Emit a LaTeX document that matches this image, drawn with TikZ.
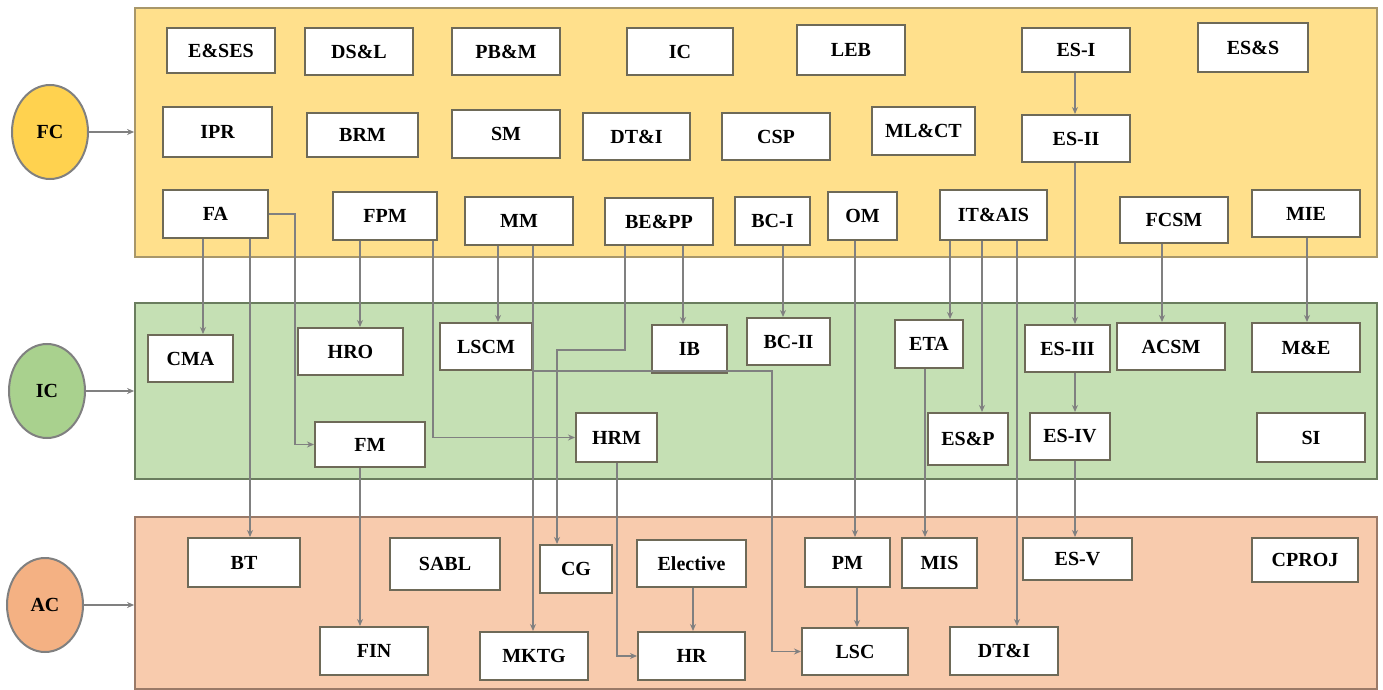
\documentclass[tikz,border=0pt]{standalone}
\usepackage{fontspec}
\setmainfont{Liberation Serif}
\usetikzlibrary{shapes.geometric,arrows.meta}
\definecolor{fcfill}{HTML}{FFE08C}
\definecolor{icfill}{HTML}{C5E0B4}
\definecolor{acfill}{HTML}{F8CBAD}
\definecolor{fccirc}{HTML}{FFD24F}
\definecolor{iccirc}{HTML}{A9D18E}
\definecolor{accirc}{HTML}{F4B183}
\definecolor{fcedge}{HTML}{A8976A}
\definecolor{icedge}{HTML}{6A7D5E}
\definecolor{acedge}{HTML}{9A7A68}
\definecolor{boxedge}{HTML}{6E6A58}
\definecolor{linec}{HTML}{808080}
\newcommand\mybox[6]{\node[box, minimum width={(#4-#2)*0.5pt}, minimum height={(#5-#3)*0.5pt}] (#1) at ({(#2+#4)/2},{(#3+#5)/2}) {#6};}
\newcommand\myvc[3]{\coordinate (vx) at (#3,0); \draw[conn] (#1.south -| vx) -- (#2.north -| vx);}
\begin{document}
\begin{tikzpicture}[x=0.5pt,y=-0.5pt,
  box/.style={draw=boxedge, line width=1pt, fill=white, inner sep=0pt, font=\bfseries\fontsize{10}{12}\selectfont},
  conn/.style={draw=linec, line width=0.6pt, -{Stealth[length=3.5pt,width=3pt]}},
  band/.style={line width=0.9pt, inner sep=0pt, minimum width={(1377-135)*0.5pt}},
  circ/.style={ellipse, draw=gray, line width=1pt, minimum width=38pt, minimum height=47pt, inner sep=0pt, font=\bfseries\fontsize{10}{12}\selectfont}]
\useasboundingbox (0,0) rectangle (1383,690);
% bands
\node[band, draw=fcedge, fill=fcfill, minimum height={(257-8)*0.5pt}] (fcband) at ({(135+1377)/2},{(8+257)/2}) {};
\node[band, draw=icedge, fill=icfill, minimum height={(479-303)*0.5pt}] (icband) at ({(135+1377)/2},{(303+479)/2}) {};
\node[band, draw=acedge, fill=acfill, minimum height={(689-517)*0.5pt}] (acband) at ({(135+1377)/2},{(517+689)/2}) {};
% circles
\node[circ, fill=fccirc] (fcc) at (50,132) {FC};
\node[circ, fill=iccirc] (icc) at (47,391) {IC};
\node[circ, fill=accirc] (acc) at (45,605) {AC};
\draw[conn] (fcc.east) -- (fcc.east -| fcband.west);
\draw[conn] (icc.east) -- (icc.east -| icband.west);
\draw[conn] (acc.east) -- (acc.east -| acband.west);
% FC boxes
\mybox{esses}{167}{28}{275}{73}{E\&SES}
\mybox{dsl}{305}{28}{413}{75}{DS\&L}
\mybox{pbm}{452}{28}{560}{75}{PB\&M}
\mybox{ic}{627}{28}{733}{75}{IC}
\mybox{leb}{797}{25}{905}{75}{LEB}
\mybox{esi}{1022}{28}{1130}{72}{ES-I}
\mybox{ess}{1198}{23}{1308}{72}{ES\&S}
\mybox{ipr}{163}{107}{272}{157}{IPR}
\mybox{brm}{307}{113}{418}{157}{BRM}
\mybox{sm}{452}{110}{560}{158}{SM}
\mybox{dti}{583}{113}{690}{160}{DT\&I}
\mybox{csp}{722}{113}{830}{160}{CSP}
\mybox{mlct}{872}{107}{975}{155}{ML\&CT}
\mybox{esii}{1022}{115}{1130}{162}{ES-II}
\mybox{fa}{163}{190}{268}{238}{FA}
\mybox{fpm}{333}{192}{437}{240}{FPM}
\mybox{mm}{465}{197}{573}{245}{MM}
\mybox{bepp}{605}{198}{713}{245}{BE\&PP}
\mybox{bci}{735}{197}{810}{245}{BC-I}
\mybox{om}{828}{192}{897}{240}{OM}
\mybox{itais}{940}{190}{1047}{240}{IT\&AIS}
\mybox{fcsm}{1120}{197}{1228}{243}{FCSM}
\mybox{mie}{1252}{190}{1360}{237}{MIE}
% IC boxes
\mybox{cma}{148}{335}{233}{382}{CMA}
\mybox{hro}{298}{328}{403}{375}{HRO}
\mybox{lscm}{440}{323}{532}{370}{LSCM}
\mybox{ib}{652}{325}{727}{373}{IB}
\mybox{bcii}{747}{318}{830}{365}{BC-II}
\mybox{eta}{895}{320}{963}{368}{ETA}
\mybox{esiii}{1025}{325}{1110}{372}{ES-III}
\mybox{acsm}{1117}{323}{1225}{370}{ACSM}
\mybox{me}{1252}{323}{1360}{372}{M\&E}
\mybox{fm}{315}{422}{425}{467}{FM}
\mybox{hrm}{576}{413}{657}{462}{HRM}
\mybox{esp}{928}{413}{1008}{465}{ES\&P}
\mybox{esiv}{1030}{413}{1110}{460}{ES-IV}
\mybox{si}{1257}{413}{1365}{462}{SI}
% AC boxes
\mybox{bt}{188}{538}{300}{587}{BT}
\mybox{sabl}{390}{538}{500}{590}{SABL}
\mybox{cg}{540}{545}{612}{593}{CG}
\mybox{elec}{637}{540}{746}{587}{Elective}
\mybox{pm}{805}{538}{890}{587}{PM}
\mybox{mis}{902}{538}{977}{588}{MIS}
\mybox{esv}{1023}{538}{1132}{580}{ES-V}
\mybox{cproj}{1252}{538}{1358}{582}{CPROJ}
\mybox{fin}{320}{627}{428}{675}{FIN}
\mybox{mktg}{480}{632}{588}{680}{MKTG}
\mybox{hr}{638}{632}{745}{680}{HR}
\mybox{lsc}{802}{628}{908}{675}{LSC}
\mybox{dtia}{950}{627}{1058}{675}{DT\&I}
% vertical connectors
\myvc{esi}{esii}{1075}
\myvc{esii}{esiii}{1075}
\myvc{esiii}{esiv}{1075}
\myvc{esiv}{esv}{1075}
\myvc{fa}{cma}{203}
\myvc{fa}{bt}{250}
\myvc{fpm}{hro}{360}
\myvc{fm}{fin}{360}
\myvc{mm}{lscm}{498}
\myvc{mm}{mktg}{533}
\myvc{bepp}{ib}{683}
\myvc{bci}{bcii}{783}
\myvc{om}{pm}{855}
\myvc{itais}{eta}{950}
\myvc{itais}{esp}{982}
\myvc{itais}{dtia}{1017}
\myvc{fcsm}{acsm}{1162}
\myvc{mie}{me}{1307}
\myvc{eta}{mis}{925}
\myvc{elec}{hr}{693}
\myvc{pm}{lsc}{857}
% elbow connectors
\coordinate (k295) at (295,0);
\draw[conn] (fa.east) -- (fa.east -| k295) -- (k295 |- fm.west) -- (fm.west);
\coordinate (k433) at (433,0);
\draw[conn] (fpm.south -| k433) |- (hrm.west);
\coordinate (k1) at (625,350);
\coordinate (k2) at (557,350);
\draw[conn] (bepp.south -| k1) -- (k1) -- (k2) -- (cg.north -| k2);
\coordinate (k772) at (772,373);
\draw[conn] (lscm.south east) -- (lscm.south east -| k772) |- (lsc.west);
\coordinate (k617) at (617,0);
\draw[conn] (hrm.south -| k617) |- (hr.west);
\end{tikzpicture}
\end{document}
